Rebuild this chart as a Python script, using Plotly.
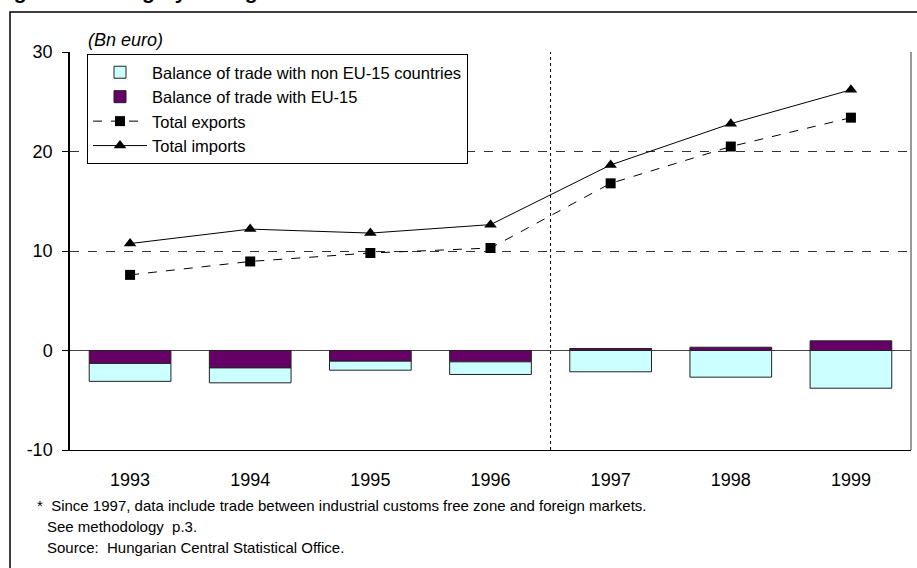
import plotly.graph_objects as go

years = ["1993", "1994", "1995", "1996", "1997", "1998", "1999"]
bal_eu15 = [-1.3, -1.75, -1.07, -1.14, 0.2, 0.33, 0.97]
bal_non_eu = [-1.8, -1.5, -0.91, -1.27, -2.14, -2.68, -3.79]
exports = [7.6, 8.95, 9.8, 10.3, 16.8, 20.5, 23.4]
imports = [10.75, 12.2, 11.8, 12.65, 18.65, 22.8, 26.2]
ytick_vals = [-10, 0, 10, 20, 30]
ytick_text = ["-10", "0", "10", "20", "30"]

FONT = "Liberation Sans, Arial, sans-serif"

W, H = 917, 568
L, R, T, B = 70, 6, 52, 118
PW, PH = W - L - R, H - T - B


def px(x):
    return (x - L) / PW


def py(y):
    return (H - B - y) / PH


fig = go.Figure()
fig.add_trace(go.Bar(
    x=years, y=bal_eu15, name="Balance of trade with EU-15",
    marker=dict(color="#660066", line=dict(color="#222222", width=1)),
    width=0.68, legendrank=2,
))
fig.add_trace(go.Bar(
    x=years, y=bal_non_eu, name="Balance of trade with non EU-15 countries",
    marker=dict(color="#CCFFFF", line=dict(color="#222222", width=1)),
    width=0.68, legendrank=1,
))
fig.add_trace(go.Scatter(
    x=years, y=exports, name="Total exports", mode="lines+markers",
    line=dict(color="black", width=1, dash="dash"),
    marker=dict(symbol="square", size=10, color="black"),
    legendrank=3,
))
fig.add_trace(go.Scatter(
    x=years, y=imports, name="Total imports", mode="lines+markers",
    line=dict(color="black", width=1),
    marker=dict(symbol="triangle-up", size=11, color="black"),
    legendrank=4,
))

fig.update_layout(
    width=W, height=H,
    margin=dict(l=L, r=R, t=T, b=B),
    paper_bgcolor="white", plot_bgcolor="white",
    barmode="relative", bargap=0.32,
    font=dict(family=FONT, size=18, color="black"),
    legend=dict(
        x=px(87), y=py(54), xanchor="left", yanchor="top",
        bgcolor="white", bordercolor="black", borderwidth=1,
        font=dict(size=16.5), traceorder="normal",
        itemwidth=54,
    ),
    showlegend=True,
)
fig.update_xaxes(
    type="category", showgrid=False, showline=True, linecolor="black", linewidth=1,
    ticks="", ticklabelstandoff=13, tickfont=dict(size=18),
    range=[-0.5, 6.5], fixedrange=True,
)
fig.update_yaxes(
    range=[-10, 30], tickvals=ytick_vals, ticktext=ytick_text,
    showgrid=True, gridcolor="#333333", griddash="dash", gridwidth=1,
    zeroline=True, zerolinecolor="#444444", zerolinewidth=1,
    showline=True, linecolor="black", linewidth=1.5,
    ticks="outside", ticklen=6, tickcolor="black", tickfont=dict(size=18),
    ticklabelstandoff=6,
)

# vertical divider between 1996 and 1997 (category boundary)
fig.add_shape(type="line", xref="paper", yref="paper", x0=4 / 7, x1=4 / 7, y0=0, y1=1,
              line=dict(color="black", width=1, dash="dot"))
# right border of the plot
fig.add_shape(type="line", xref="paper", yref="paper", x0=1, x1=1, y0=0, y1=1,
              line=dict(color="#777777", width=1.5))
# outer frame
fig.add_shape(type="rect", xref="paper", yref="paper",
              x0=px(10), x1=px(940), y0=py(12), y1=py(600),
              line=dict(color="black", width=1.5), layer="below")

fig.add_annotation(text="<i>(Bn euro)</i>", xref="paper", yref="paper",
                   x=px(86), y=py(40), xanchor="left", yanchor="middle",
                   showarrow=False, font=dict(size=18))

fig.add_annotation(text="<b>Figure 12: Hungary: foreign trade*</b>", xref="paper", yref="paper",
                   x=px(-6), y=py(4), xanchor="left", yanchor="bottom",
                   showarrow=False, font=dict(size=21), borderpad=0)

notes = [
    ("*  Since 1997, data include trade between industrial customs free zone and foreign markets.", 35, 505),
    ("See methodology  p.3.", 45, 526),
    ("Source:  Hungarian Central Statistical Office.", 45, 547),
]
for txt, x0, y0 in notes:
    fig.add_annotation(text=txt, xref="paper", yref="paper", x=px(x0), y=py(y0),
                       xanchor="left", yanchor="middle", showarrow=False,
                       font=dict(size=15))

fig.write_html("out.html", config={"displayModeBar": False},
               post_script="document.body.style.margin='0px';")
